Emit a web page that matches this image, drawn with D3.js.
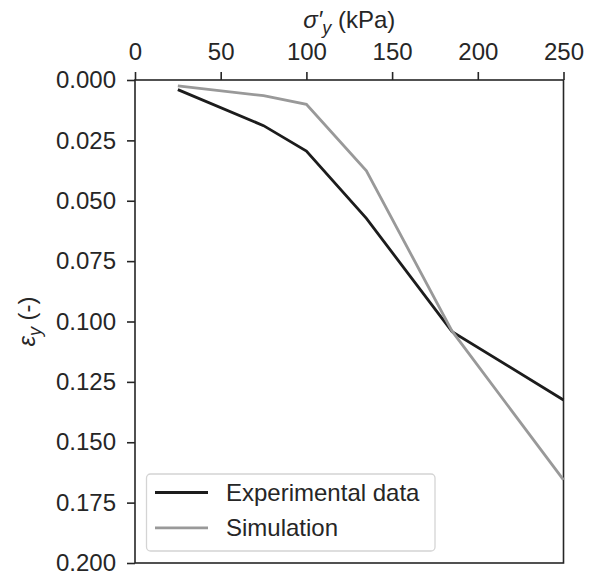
<!DOCTYPE html>
<html>
<head>
<meta charset="utf-8">
<script src="https://cdn.jsdelivr.net/npm/d3@7"></script>
<style>
html,body{margin:0;padding:0;background:#fff;}
svg{display:block;font-family:"Liberation Sans",Arial,Helvetica,sans-serif;}
</style>
</head>
<body>
<svg id="chart" width="597" height="577"></svg>
<script>
const stress = [25, 75, 100, 135, 185, 250];
const experimental = [0.0040, 0.0189, 0.0294, 0.0573, 0.1042, 0.1325];
const simulation = [0.0024, 0.0065, 0.0101, 0.0376, 0.1040, 0.1656];
const xTicks = [0, 50, 100, 150, 200, 250];
const yTicks = [0, 0.025, 0.05, 0.075, 0.1, 0.125, 0.15, 0.175, 0.2];
const seriesNames = ["Experimental data", "Simulation"];
const seriesColors = ["#1c1c1c", "#999999"];

const svg = d3.select("#chart");
const L = 135, R = 563.5, T = 80, B = 563;
const x = d3.scaleLinear().domain([0, 250]).range([L, R]);
const y = d3.scaleLinear().domain([0, 0.2]).range([T, B]);
const axisColor = "#262626";
const fs = 24;

// frame
svg.append("rect").attr("x", L).attr("y", T).attr("width", R - L).attr("height", B - T)
  .attr("fill", "none").attr("stroke", axisColor).attr("stroke-width", 1.6);

// top x axis
const xa = svg.append("g").attr("transform", `translate(0,${T})`)
  .call(d3.axisTop(x).tickValues(xTicks).tickSize(8).tickPadding(12).tickFormat(d3.format("d")));
// left y axis
const ya = svg.append("g").attr("transform", `translate(${L},0)`)
  .call(d3.axisLeft(y).tickValues(yTicks).tickSize(8).tickPadding(11).tickFormat(d3.format(".3f")));
[xa, ya].forEach(g => {
  g.select(".domain").remove();
  g.selectAll(".tick line").attr("stroke", axisColor).attr("stroke-width", 1.6);
  g.selectAll(".tick text").attr("fill", axisColor).style("font-size", fs + "px")
    .style("font-family", '"Liberation Sans",Arial,sans-serif');
});

// lines
const line = d3.line().x((d, i) => x(stress[i])).y(d => y(d));
[experimental, simulation].forEach((s, k) => {
  svg.append("path").datum(s).attr("d", line).attr("fill", "none")
    .attr("stroke", seriesColors[k]).attr("stroke-width", 2.8)
    .attr("stroke-linejoin", "miter").attr("stroke-linecap", "butt");
});

// x title
const xt = svg.append("text").attr("x", (L + R) / 2).attr("y", 28)
  .attr("text-anchor", "middle").attr("fill", axisColor).style("font-size", fs + "px");
xt.append("tspan").style("font-style", "italic").text("σ′");
xt.append("tspan").style("font-style", "italic").style("font-size", "18px").attr("dy", 6).text("y");
xt.append("tspan").attr("dy", -6).text(" (kPa)");

// y title
const yt = svg.append("text").attr("transform", `translate(35,${(T + B) / 2}) rotate(-90)`)
  .attr("text-anchor", "middle").attr("fill", axisColor).style("font-size", fs + "px");
yt.append("tspan").style("font-style", "italic").text("ε");
yt.append("tspan").style("font-style", "italic").style("font-size", "18px").attr("dy", 6).text("y");
yt.append("tspan").attr("dy", -6).text(" (-)");

// legend
const lg = svg.append("g");
lg.append("rect").attr("x", 146.5).attr("y", 474).attr("width", 288.5).attr("height", 77)
  .attr("rx", 4).attr("fill", "#fff").attr("stroke", "#d4d4d4").attr("stroke-width", 1.3);
seriesNames.forEach((n, k) => {
  const yy = 492.5 + k * 35.3;
  lg.append("line").attr("x1", 155).attr("x2", 208).attr("y1", yy).attr("y2", yy)
    .attr("stroke", seriesColors[k]).attr("stroke-width", 2.8);
  lg.append("text").attr("x", 226).attr("y", yy).attr("dy", "0.35em")
    .attr("fill", axisColor).style("font-size", fs + "px").text(n);
});
</script>
</body>
</html>
